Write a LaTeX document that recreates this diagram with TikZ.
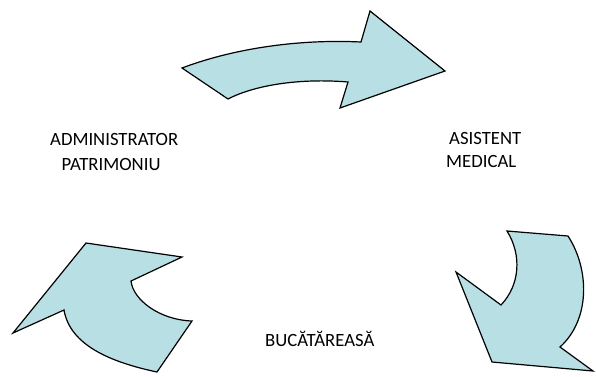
\documentclass[tikz,border=0pt]{standalone}
\usepackage{fontspec}
\setmainfont{Carlito}
\definecolor{arrowfill}{RGB}{184,223,228}
\tikzset{
  bigarrow/.style={draw=black, line width=1.2pt, fill=arrowfill, line join=miter},
  lbl/.style={anchor=base west, inner sep=0pt, font=\fontsize{18.7}{22}\selectfont, text=black}
}
\begin{document}
\begin{tikzpicture}[x=1pt,y=-1pt]
\useasboundingbox (0,0) rectangle (596,376);
% top arrow
\path[bigarrow] (182,68) .. controls (235,48) and (300,39) .. (361,42)
  -- (370,11) -- (445,71) -- (340,108) -- (348,82)
  .. controls (300,78) and (255,85) .. (228,99) -- cycle;
% bottom-right arrow
\path[bigarrow] (507,231) -- (568,236)
  .. controls (590,270) and (590,320) .. (560,347)
  -- (593,371) -- (492,362) -- (456,272) -- (501,305)
  .. controls (520,285) and (522,255) .. (507,231) -- cycle;
% bottom-left arrow
\path[bigarrow] (86,243) -- (182,257) -- (131,281)
  .. controls (133,300) and (160,320) .. (192,321)
  -- (157,372)
  .. controls (110,362) and (70,345) .. (64,310)
  -- (13,333) -- cycle;
% labels
\node[lbl] (admin1) at (50,145) {ADMINISTRATOR};
\node[lbl] (admin2) at (61.5,170.5) {PATRIMONIU};
\node[lbl] (asist1) at (449,144) {ASISTENT};
\node[lbl] (asist2) at (446,167) {MEDICAL};
\node[lbl] (buc) at (265,346.5) {BUCĂTĂREASĂ};
\end{tikzpicture}
\end{document}
